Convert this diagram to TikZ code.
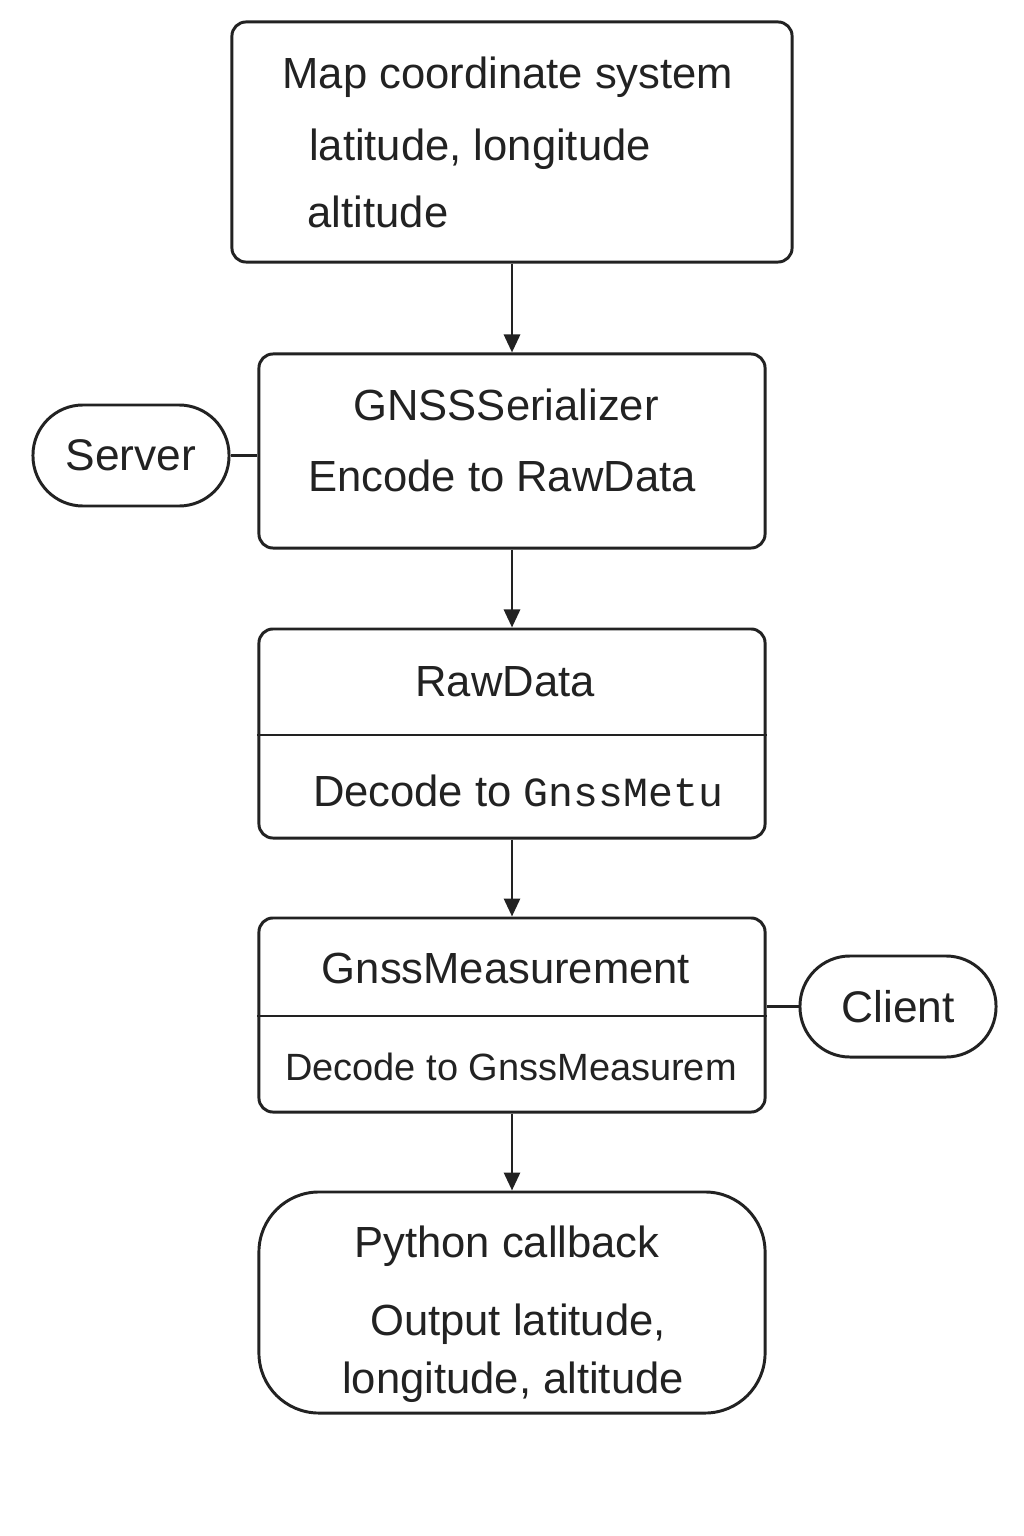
\documentclass[tikz,border=0pt]{standalone}
\usepackage{fontspec}
\setmainfont{Liberation Sans}
\setmonofont{Liberation Mono}
\usepackage{xcolor}
\usepackage{tikz}
\usetikzlibrary{arrows.meta}
\definecolor{ink}{HTML}{222222}

\begin{document}
\begin{tikzpicture}[x=0.025cm,y=-0.025cm]

\edef\sizeline{2.1pt}
\tikzstyle{stepbox}=[draw=ink,line width=\sizeline,rounded corners=0.35cm,minimum width=12.65cm,inner sep=0pt]
\tikzstyle{endpoint}=[draw=ink,line width=\sizeline,rounded corners=1.25cm,minimum width=4.9cm,minimum height=2.525cm,inner sep=0pt,text=ink,font=\fontsize{31.5}{37}\selectfont]
\tikzstyle{txt}=[anchor=base,inner sep=0pt,text=ink,font=\fontsize{31}{37}\selectfont]
\tikzstyle{smalltxt}=[txt,font=\fontsize{27}{32}\selectfont]
\tikzstyle{flow}=[draw=ink,line width=\sizeline,-{Triangle[width=0.4cm,length=0.45cm]}]
\tikzstyle{link}=[draw=ink,line width=\sizeline]

\useasboundingbox (0,0) rectangle (1024,1536);
\fill[white] (0,0) rectangle (1024,1536);

%% Boxes of the chain
\node [stepbox,minimum width=14cm,minimum height=6cm] (map) at (512,142) {};
\node [stepbox,minimum height=4.85cm] (ser) at (512,451) {};
\node [stepbox,minimum height=5.225cm] (raw) at (512,733.5) {};
\node [stepbox,minimum height=4.85cm] (meas) at (512,1015) {};
\node [stepbox,minimum height=5.525cm,rounded corners=1.5cm] (cb) at (512,1302.5) {};

% split lines
\draw[link] (raw.west |- 0,735) -- (raw.east |- 0,735);
\draw[link] (meas.west |- 0,1016) -- (meas.east |- 0,1016);

%% Server / Client
\node [endpoint] (server) at (131,455.5) {Server};
\node [endpoint] (client) at (898,1006.5) {Client};
\draw[link] (server.east) -- (server.east -| ser.west);
\draw[link] (client.west) -- (client.west -| meas.east);

%% Texts
\node[txt] (t-map) at (508,89) {Map coordinate system};
\node[txt] (t-latlon) at (480,161) {latitude, longitude};
\node[txt] (t-alt) at (378,228) {altitude};

\node[txt] (t-ser) at (506,420) {GNSSSerializer};
\node[txt] (t-enc) at (502,491) {Encode to RawData};

\node[txt] (t-raw) at (505,696) {RawData};
\node[txt] (t-dec) at (518,806) {Decode to {\fontsize{29.5}{35}\selectfont\texttt{GnssMetu}}};

\node[txt] (t-meas) at (506,983) {GnssMeasurement};
\node[smalltxt] (t-decm) at (511,1080) {Decode to GnssMeasurem};

\node[txt] (t-py) at (507,1257) {Python callback};
\node[txt] (t-out) at (518,1335) {Output latitude,};
\node[txt] (t-lon) at (513,1393) {longitude, altitude};

%% Arrows
\draw[flow] (map) -- (ser);
\draw[flow] (ser) -- (raw);
\draw[flow] (raw) -- (meas);
\draw[flow] (meas) -- (cb);

\end{tikzpicture}
\end{document}
